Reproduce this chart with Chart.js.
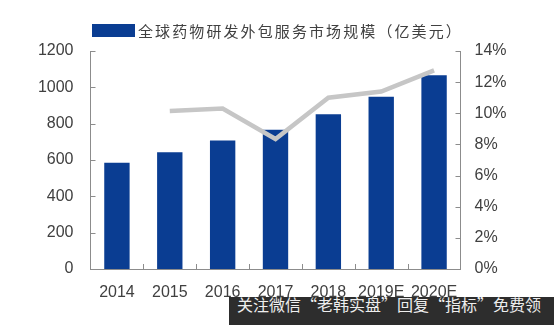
<!DOCTYPE html>
<html>
<head>
<meta charset="utf-8">
<script src="https://cdn.jsdelivr.net/npm/chart.js@4"></script>
<style>
  body { margin: 0; background: #fff; }
  #wrap { position: relative; width: 554px; height: 325px; }
  #legend { position: absolute; left: 92px; top: 22px; height: 17px; display: flex; align-items: center;
    font: 15px "Noto Sans CJK SC", sans-serif; color: #404040; letter-spacing: 2.1px; white-space: nowrap; }
  #legend span.box { display: inline-block; width: 43px; height: 13px; background: #0a3d92; margin-right: 3px; }
  #mark { position: absolute; left: 229px; top: 297px; width: 325px; height: 28px; background: #2d2d2d;
    color: #eeeeee; font: 16px "Noto Sans CJK SC", sans-serif; line-height: 15px; padding-left: 8px; box-sizing: border-box;
    white-space: nowrap; overflow: hidden; }
</style>
</head>
<body>
<div id="wrap">
  <canvas id="c" width="554" height="325"></canvas>
  <div id="legend"><span class="box"></span>全球药物研发外包服务市场规模（亿美元）</div>
  <div id="mark">关注微信“老韩实盘”回复“指标”免费领</div>
</div>
<script>
var years = ['2014', '2015', '2016', '2017', '2018', '2019E', '2020E'];
var marketSize = [585, 643, 707, 766, 852, 948, 1067];
var growthPct = [null, 10.15, 10.3, 8.35, 11.0, 11.4, 12.76];

var axisColor = '#8c8c8c';
var tickFont = { family: 'Liberation Sans, Arial, sans-serif', size: 16 };

// small tick marks drawn inside the plot, like the original
var innerTicks = {
  id: 'innerTicks',
  afterDraw: function (chart) {
    var ctx = chart.ctx, a = chart.chartArea;
    var y = chart.scales.y, y1 = chart.scales.y1, x = chart.scales.x;
    ctx.save();
    ctx.strokeStyle = axisColor;
    ctx.lineWidth = 1;
    ctx.beginPath();
    y.ticks.forEach(function (t) {
      var p = Math.round(y.getPixelForValue(t.value)) + 0.5;
      ctx.moveTo(a.left, p); ctx.lineTo(a.left + 5, p);
    });
    y1.ticks.forEach(function (t) {
      var p = Math.round(y1.getPixelForValue(t.value)) + 0.5;
      ctx.moveTo(a.right - 5, p); ctx.lineTo(a.right, p);
    });
    for (var i = 0; i < years.length - 1; i++) {
      var b = Math.round((x.getPixelForValue(i) + x.getPixelForValue(i + 1)) / 2) + 0.5;
      ctx.moveTo(b, a.bottom); ctx.lineTo(b, a.bottom - 5);
    }
    ctx.stroke();
    ctx.restore();
  }
};

new Chart(document.getElementById('c'), {
  type: 'bar',
  data: {
    labels: years,
    datasets: [{
      type: 'line',
      data: growthPct,
      yAxisID: 'y1',
      borderColor: '#c6c6c6',
      borderWidth: 4.5,
      pointRadius: 0,
      tension: 0,
      order: 0
    }, {
      type: 'bar',
      data: marketSize,
      yAxisID: 'y',
      backgroundColor: '#0a3d92',
      barPercentage: 0.48,
      categoryPercentage: 1,
      order: 1
    }]
  },
  options: {
    responsive: false,
    animation: false,
    layout: { padding: { top: 51, left: 0, right: 0, bottom: 0 } },
    plugins: { legend: { display: false }, tooltip: { enabled: false } },
    scales: {
      x: {
        grid: { display: false, drawTicks: false },
        border: { color: axisColor },
        ticks: { font: tickFont, color: '#404040', padding: 14, maxRotation: 0, autoSkip: false },
        afterFit: function (s) { s.height = 56; }
      },
      y: {
        position: 'left',
        min: 0, max: 1200,
        ticks: { stepSize: 200, font: tickFont, color: '#404040', padding: 17,
          callback: function (v) { return String(v); } },
        grid: { display: false, drawTicks: false },
        border: { color: axisColor },
        afterFit: function (s) { s.width = 90.5; }
      },
      y1: {
        position: 'right',
        min: 0, max: 14,
        ticks: { stepSize: 2, font: tickFont, color: '#404040', padding: 14,
          callback: function (v) { return v + '%'; } },
        grid: { display: false, drawTicks: false },
        border: { color: axisColor },
        afterFit: function (s) { s.width = 93.5; }
      }
    }
  },
  plugins: [innerTicks]
});
</script>
</body>
</html>
